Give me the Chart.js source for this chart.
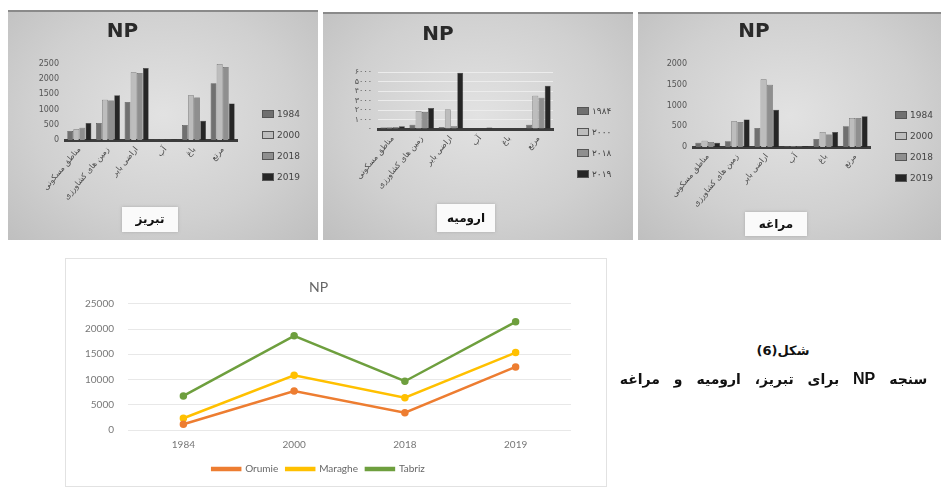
<!DOCTYPE html>
<html>
<head>
<meta charset="utf-8">
<script src="https://cdn.jsdelivr.net/npm/chart.js@4.4.1/dist/chart.umd.min.js"></script>
<style>
  html, body { margin: 0; padding: 0; background: #fff; }
  body { width: 941px; height: 490px; position: relative; overflow: hidden; font-family: "DejaVu Sans", sans-serif; }
  .panel {
    position: absolute;
    background: radial-gradient(ellipse at 50% 45%, #e2e2e2 0%, #d0d0d0 60%, #bfbfbf 100%);
    border-top: 2px solid #8a8a8a;
    box-sizing: border-box;
  }
  .panel canvas { position: absolute; left: 0; top: 0; }
  .city {
    position: absolute; background: #fafafa; box-shadow: 0 0 3px #aaa;
    font-weight: bold; font-size: 12px; color: #111; text-align: center; direction: rtl;
  }
  .legend { position: absolute; font-size: 9px; color: #444; }
  .legend .item { display: flex; align-items: center; height: 10px; margin-bottom: 11px; }
  .legend .sw { width: 12px; height: 8px; margin-right: 3px; border: 1px solid #555; box-sizing: border-box; }
  .lineBox { position: absolute; left: 65px; top: 258px; width: 542px; height: 229px; border: 1px solid #e2e2e2; box-sizing: border-box; background: #fff; }
  .lineBox canvas { position: absolute; left: 0; top: 0; }
  .caption { position: absolute; direction: rtl; text-align: center; font-weight: bold; color: #111; white-space: nowrap; }
</style>
</head>
<body>

<div class="panel" id="p1" style="left:8px; top:10px; width:310px; height:230px;">
  <canvas id="tabrizChart" width="310" height="230"></canvas>
  <div class="legend" id="leg1" style="left:254px; top:97px;"></div>
  <div class="city" style="left:114px; top:195px; width:56px; height:25px; line-height:25px;">تبریز</div>
</div>

<div class="panel" id="p2" style="left:323px; top:12px; width:310px; height:228px;">
  <canvas id="orumieChart" width="310" height="228"></canvas>
  <div class="legend" id="leg2" style="left:254px; top:92px;"></div>
  <div class="city" style="left:114px; top:190px; width:58px; height:28px; line-height:28px;">ارومیه</div>
</div>

<div class="panel" id="p3" style="left:638px; top:12px; width:303px; height:228px;">
  <canvas id="maraghehChart" width="303" height="228"></canvas>
  <div class="legend" id="leg3" style="left:257px; top:96px;"></div>
  <div class="city" style="left:107px; top:198px; width:62px; height:24px; line-height:24px;">مراغه</div>
</div>

<div class="lineBox">
  <canvas id="lineChart" width="542" height="229"></canvas>
</div>

<div class="caption" style="left:698px; top:343px; width:170px; font-size:13px;">شکل(6)</div>
<div class="caption" style="left:606px; top:370px; width:335px; font-size:14px; word-spacing:9px;">سنجه <span style="font-size:16px; font-family:'Liberation Sans', sans-serif;">NP</span> برای تبریز، ارومیه و مراغه</div>

<script>
// land use classes (x axis of the bar charts)
const categories = ['مناطق مسکونی', 'زمین های کشاورزی', 'اراضی بایر', 'آب', 'باغ', 'مرتع'];
const years = ['1984', '2000', '2018', '2019'];
const yearsFa = ['۱۹۸۴', '۲۰۰۰', '۲۰۱۸', '۲۰۱۹'];

// Tabriz
const tabriz1984 = [300, 560, 1250, 10, 490, 1870];
const tabriz2000 = [350, 1320, 2230, 10, 1470, 2500];
const tabriz2018 = [400, 1300, 2200, 10, 1400, 2400];
const tabriz2019 = [560, 1470, 2370, 20, 630, 1200];

// Orumie
const orumie1984 = [150, 450, 200, 50, 50, 450];
const orumie2000 = [200, 1870, 2040, 50, 50, 3500];
const orumie2018 = [200, 1800, 300, 50, 50, 3300];
const orumie2019 = [300, 2220, 5920, 150, 50, 4550];

// Maragheh
const maragheh1984 = [100, 140, 460, 20, 190, 500];
const maragheh2000 = [150, 620, 1630, 20, 360, 700];
const maragheh2018 = [120, 600, 1500, 20, 300, 700];
const maragheh2019 = [100, 660, 900, 20, 360, 740];

// totals, line chart
const lineYears = ['1984', '2000', '2018', '2019'];
const orumieNP = [1130, 7740, 3440, 12500];
const maragheNP = [2320, 10850, 6400, 15340];
const tabrizNP = [6750, 18650, 9660, 21430];

const barColors = ['#707070', '#bdbdbd', '#8f8f8f', '#262626'];
const faDigits = s => String(s).replace(/\d/g, d => '۰۱۲۳۴۵۶۷۸۹'[d]);

function barPanel(id, legendId, series, labels, yMax, yStep, box, opts) {
    const ctx = document.getElementById(id).getContext('2d');
    const chart = new Chart(ctx, {
        type: 'bar',
        data: {
            labels: categories,
            datasets: series.map((s, i) => ({
                label: labels[i],
                data: s,
                backgroundColor: barColors[i],
                borderColor: '#3a3a3a',
                borderWidth: 0.5,
                categoryPercentage: 0.85,
                barPercentage: 0.95
            }))
        },
        options: {
            responsive: false,
            animation: false,
            layout: { padding: { left: 0, right: box.right, top: 0, bottom: 0 } },
            plugins: {
                legend: { display: false },
                tooltip: { enabled: false },
                title: {
                    display: true,
                    text: 'NP',
                    color: '#2a2a2a',
                    font: { family: 'DejaVu Sans', size: 20, weight: 'bold' },
                    padding: { top: box.titleTop, bottom: box.titleBottom }
                }
            },
            scales: {
                x: {
                    grid: { display: false, drawTicks: false },
                    border: { display: true, color: '#3c3c3c', width: 3 },
                    ticks: {
                        minRotation: 50, maxRotation: 50,
                        color: '#4a4a4a',
                        font: { family: 'DejaVu Sans', size: 8 },
                        padding: 5
                    },
                    afterFit: s => { s.height = box.xHeight; }
                },
                y: {
                    min: 0, max: yMax,
                    grid: { display: opts.grid, color: '#ececec', drawTicks: false },
                    border: { display: false },
                    ticks: {
                        stepSize: yStep,
                        autoSkip: false,
                        color: '#555',
                        font: { family: 'DejaVu Sans', size: 8 },
                        padding: 6,
                        callback: v => opts.fa ? faDigits(v) : v
                    },
                    afterFit: s => { s.width = box.yWidth; }
                }
            }
        }
    });

    // legend built from the chart's datasets
    const leg = document.getElementById(legendId);
    chart.data.datasets.forEach(ds => {
        const item = document.createElement('div');
        item.className = 'item';
        item.innerHTML = '<span class="sw" style="background:' + ds.backgroundColor + '"></span>' + ds.label;
        leg.appendChild(item);
    });
    return chart;
}

barPanel('tabrizChart', 'leg1', [tabriz1984, tabriz2000, tabriz2018, tabriz2019], years, 2500, 500,
    { right: 81, titleTop: 8, titleBottom: 20, xHeight: 102, yWidth: 57 }, { grid: false, fa: false });

barPanel('orumieChart', 'leg2', [orumie1984, orumie2000, orumie2018, orumie2019], yearsFa, 6000, 1000,
    { right: 80, titleTop: 9, titleBottom: 25, xHeight: 113, yWidth: 55 }, { grid: true, fa: true });

barPanel('maraghehChart', 'leg3', [maragheh1984, maragheh2000, maragheh2018, maragheh2019], years, 2000, 500,
    { right: 71, titleTop: 6, titleBottom: 20, xHeight: 95, yWidth: 55 }, { grid: false, fa: false });

// Line chart
const lineCtx = document.getElementById('lineChart').getContext('2d');
new Chart(lineCtx, {
    type: 'line',
    data: {
        labels: lineYears,
        datasets: [
            { label: 'Orumie', data: orumieNP, borderColor: '#ED7D31', backgroundColor: '#ED7D31' },
            { label: 'Maraghe', data: maragheNP, borderColor: '#FFC000', backgroundColor: '#FFC000' },
            { label: 'Tabriz', data: tabrizNP, borderColor: '#6E9F3E', backgroundColor: '#6E9F3E' }
        ].map(d => Object.assign(d, { borderWidth: 2.5, pointRadius: 2.5, tension: 0 }))
    },
    options: {
        responsive: false,
        animation: false,
        layout: { padding: { left: 0, right: 37, top: 8, bottom: 4 } },
        plugins: {
            tooltip: { enabled: false },
            title: {
                display: true,
                text: 'NP',
                color: '#666',
                font: { family: 'Lato', size: 14, weight: 'normal' },
                padding: { top: 12, bottom: 8 }
            },
            legend: {
                position: 'bottom',
                labels: {
                    color: '#666',
                    font: { family: 'Lato', size: 10 },
                    boxWidth: 28,
                    boxHeight: 2,
                    padding: 8
                }
            }
        },
        scales: {
            x: {
                offset: true,
                grid: { display: false, drawTicks: false },
                border: { display: false },
                ticks: { color: '#777', font: { family: 'Lato', size: 10 }, padding: 9 },
                afterFit: s => { s.height = 26; }
            },
            y: {
                min: 0, max: 25000,
                grid: { color: '#e8e8e8', drawTicks: false },
                border: { display: false },
                ticks: { stepSize: 5000, color: '#777', font: { family: 'Lato', size: 10 }, padding: 14, callback: v => String(v) },
                afterFit: s => { s.width = 62; }
            }
        }
    }
});
</script>
</body>
</html>
